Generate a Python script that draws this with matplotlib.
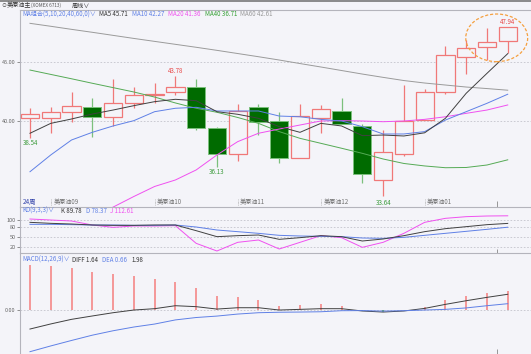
import numpy as np
import matplotlib.pyplot as plt
from matplotlib.patches import Ellipse
from matplotlib.transforms import blended_transform_factory

plt.rcParams['font.family'] = ['Noto Sans CJK SC', 'DejaVu Sans']

# weekly candles (24 weeks)
opens = [40.23, 40.23, 40.74, 41.21, 40.31, 41.50, 42.20, 42.48, 42.85, 39.38, 37.18, 41.16,
         40.00, 36.84, 40.28, 40.85, 39.58, 35.00, 37.20, 40.08, 42.43, 45.40, 46.25, 46.80]
closes = [40.57, 40.74, 41.30, 40.36, 41.55, 42.20, 42.26, 42.90, 39.43, 37.23, 40.87, 39.94,
          36.84, 40.45, 41.02, 39.72, 35.51, 37.35, 40.00, 42.43, 45.59, 46.16, 46.67, 47.94]
highs = [41.08, 41.21, 42.48, 41.97, 43.56, 42.90, 43.19, 43.78, 43.56, 39.52, 41.41, 41.41,
         40.74, 41.41, 41.36, 41.92, 39.72, 39.24, 43.05, 42.68, 46.36, 46.86, 47.86, 47.94]
lows = [38.54, 39.01, 39.89, 38.67, 39.58, 41.13, 41.50, 42.20, 39.24, 36.13, 36.64, 38.81,
        36.47, 36.84, 38.96, 39.72, 34.72, 33.64, 37.03, 40.08, 42.26, 43.96, 45.17, 45.74]

ma5 = [38.96, 39.80, 40.17, 40.59, 40.93, 41.30, 41.64, 41.84, 41.72, 40.79, 40.57, 40.23,
       39.52, 39.04, 39.80, 39.58, 38.76, 38.81, 38.73, 39.00, 40.23, 42.35, 44.04, 45.71]
ma10 = [35.70, 37.12, 38.39, 39.04, 39.58, 40.03, 40.79, 41.08, 41.16, 40.85, 40.85, 40.85,
        40.42, 40.36, 40.14, 40.00, 39.52, 38.90, 38.90, 39.10, 40.08, 40.79, 41.50, 42.27]
ma20 = [29.10, 30.00, 30.90, 31.80, 32.70, 33.60, 34.45, 35.00, 35.85, 37.12, 38.25, 38.96,
        39.32, 39.66, 40.00, 40.03, 40.00, 39.94, 40.00, 40.14, 40.36, 40.65, 40.93, 41.36]
ma40 = [44.32, 43.95, 43.58, 43.20, 42.83, 42.46, 42.03, 41.53, 41.08, 40.74, 40.30, 39.80,
        39.10, 38.53, 38.11, 37.69, 37.26, 36.78, 36.40, 36.19, 36.04, 36.06, 36.27, 36.71]
ma60 = [48.28, 48.03, 47.77, 47.52, 47.26, 47.00, 46.75, 46.50, 46.25, 45.99, 45.72, 45.45,
        45.17, 44.87, 44.58, 44.28, 43.98, 43.70, 43.43, 43.22, 43.05, 42.88, 42.75, 42.61]

k_line = [93, 90, 88, 85, 84, 84, 85, 85, 68, 50, 53, 55, 42, 47, 53, 50, 37, 43, 53, 65, 74, 80, 86, 89.78]
d_line = [87, 87, 86, 85, 85, 84, 84, 85, 79, 70, 65, 60, 54, 52, 51, 50, 46, 45, 48, 54, 60, 66, 72, 78.37]
j_line = [103, 100, 97, 85, 78, 82, 82, 83, 30, 7, 33, 40, 13, 33, 53, 47, 18, 33, 60, 93, 105, 110, 112, 112.61]

macd_bar = [4.69, 4.58, 4.41, 3.99, 3.75, 3.54, 3.19, 2.95, 2.26, 1.46, 1.32, 1.04,
            0.45, 0.56, 0.63, 0.42, -0.06, -0.18, -0.04, 0.35, 1.04, 1.49, 1.74, 1.98]
diff = [-1.98, -1.45, -0.97, -0.62, -0.28, 0.00, 0.14, 0.45, 0.35, 0.10, 0.24, 0.24,
        0.00, 0.07, 0.14, 0.14, -0.10, -0.21, -0.10, 0.17, 0.59, 0.97, 1.32, 1.64]
dea = [-4.34, -3.74, -3.17, -2.62, -2.16, -1.77, -1.46, -1.03, -0.78, -0.63, -0.42, -0.28,
       -0.23, -0.21, -0.18, -0.07, -0.06, -0.11, -0.07, 0.00, 0.07, 0.22, 0.45, 0.66]

month_pos = [1, 6, 10, 14, 19]
month_lab = ["美原油09", "美原油10", "美原油11", "美原油12", "美原油01"]

BG = '#f4f4f9'
RED = '#f07878'
DKGREEN = '#006b00'
LTGREEN = '#7cc07c'
BLUE = '#5f80e6'
MAG = '#f050f0'
GRID = '#c4c4cc'
FS = 4.4

W, H = 531, 354
fig = plt.figure(figsize=(5.31, 3.54), dpi=100, facecolor=BG)


def box(top, bottom):
    return [20 / W, 1 - bottom / H, (W - 20) / W, (bottom - top) / H]


def ftext(xp, yp, s, color, **kw):
    fig.text(xp / W, 1 - yp / H, s, color=color, fontsize=kw.pop('fs', FS),
             va='center', ha='left', **kw)


ax = fig.add_axes(box(10, 207))
kd = fig.add_axes(box(207, 253))
mc = fig.add_axes(box(253, 354))

x = np.arange(len(opens))
o, c, h, l = map(np.array, (opens, closes, highs, lows))
up = c >= o

for a in (ax, kd, mc):
    a.set_facecolor(BG)
    a.set_xlim(-0.48, 24.12)
    a.set_xticks([])
    for s in ('right', 'bottom'):
        a.spines[s].set_visible(False)
    for s in ('left', 'top'):
        a.spines[s].set_color('#b4b4bc')
        a.spines[s].set_linewidth(0.8)
    a.tick_params(axis='y', length=2, width=0.5, pad=1.2, labelsize=4, colors='#666666')

# main panel
ax.set_ylim(32.71, 49.41)
ax.set_yticks([40, 45])
ax.set_yticklabels(['40.00', '45.00'])
for v in (40, 45):
    ax.axhline(v, color=GRID, lw=0.6, ls=(0, (2, 2)), zorder=0)

ax.vlines(x[up], l[up], h[up], color=RED, lw=0.9, zorder=2)
ax.vlines(x[~up], l[~up], h[~up], color=LTGREEN, lw=0.9, zorder=2)
ax.bar(x[up], np.maximum(c[up] - o[up], 0.06), bottom=o[up], width=0.88,
       facecolor=BG, edgecolor=RED, linewidth=0.9, zorder=3)
ax.bar(x[~up], c[~up] - o[~up], bottom=o[~up], width=0.88,
       facecolor=DKGREEN, edgecolor=LTGREEN, linewidth=0.7, zorder=3)

ax.plot(x, ma60, color='#9a9a9a', lw=0.7, zorder=4)
ax.plot(x, ma40, color='#55aa55', lw=0.7, zorder=4)
ax.plot(x, ma20, color=MAG, lw=0.7, zorder=4)
ax.plot(x, ma10, color=BLUE, lw=0.7, zorder=4)
ax.plot(x, ma5, color='#404040', lw=0.7, zorder=4)

i_hi = int(np.argmax(h[:12]))
i_lo = int(np.argmin(l[:12]))
ax.text(i_hi, h[i_hi] + 0.42, f"{h[i_hi]:.2f}", color='#e84848', fontsize=FS, ha='center', va='center')
ax.text(i_lo, l[i_lo] - 0.47, f"{l[i_lo]:.2f}", color='#3a9a3a', fontsize=FS, ha='center', va='center')
ax.text(0, l[0] - 0.43, f"{l[0]:.2f}", color='#3a9a3a', fontsize=FS, ha='center', va='center')
ax.text(17, l[17] - 0.58, f"{l[17]:.2f}", color='#3a9a3a', fontsize=FS, ha='center', va='center')
ax.text(23, h[23] + 0.47, f"{h[23]:.2f}", color='#e84848', fontsize=FS, ha='center', va='center')

ax.add_patch(Ellipse((22.47, 47.05), 2.98, 4.04, fill=False, ec='#f5a040',
                     lw=0.9, ls=(0, (2.5, 1.5)), zorder=5))

trm = blended_transform_factory(ax.transData, ax.transAxes)
for p, lab in zip(month_pos, month_lab):
    ax.vlines(p, 0.01, 0.04, color='#999999', lw=0.5, ls=(0, (1, 1)), transform=trm)
    ax.text(p + 0.12, 0.026, lab, color='#707070', fontsize=FS, va='center', ha='left', transform=trm)
ax.text(0.005, 0.026, "24周", color='#3344aa', fontsize=4.6, va='center', ha='left',
        transform=ax.transAxes)
ax.vlines(22.5, 0.0, 0.03, color='#888888', lw=0.6, transform=trm)

# KD panel
kd.set_ylim(1, 139)
kd.set_yticks([20, 50, 80, 100])
kd.set_yticklabels(['20', '50', '80', '100'])
for v in (20, 50, 80, 100):
    kd.axhline(v, color=GRID, lw=0.6, ls=(0, (2, 2)), zorder=0)
kd.plot(x, j_line, color=MAG, lw=0.7)
kd.plot(x, d_line, color=BLUE, lw=0.7)
kd.plot(x, k_line, color='#404040', lw=0.7)
kd.vlines(22.5, 0.0, 0.08, color='#888888', lw=0.6,
          transform=blended_transform_factory(kd.transData, kd.transAxes))

# MACD panel
mc.set_ylim(-4.58, 5.94)
mc.set_yticks([0])
mc.set_yticklabels(['0.00'])
mc.axhline(0, color=GRID, lw=0.6, ls=(0, (2, 2)), zorder=0)
mb = np.array(macd_bar)
mc.vlines(x[mb >= 0], 0, mb[mb >= 0], color='#f49090', lw=1.3)
mc.vlines(x[mb < 0], 0, mb[mb < 0], color='#55aa55', lw=1.3)
mc.plot(x, diff, color='#404040', lw=0.7)
mc.plot(x, dea, color=BLUE, lw=0.7)
mc.vlines(22.5, 0.0, 0.05, color='#888888', lw=0.6,
          transform=blended_transform_factory(mc.transData, mc.transAxes))

# header texts
fig.add_artist(plt.Line2D([0, 1], [1 - 0.6 / H, 1 - 0.6 / H], color='#8a8a8a', lw=1.4))
ftext(1, 5.5, "⊙", '#555555', fs=3.6)
ftext(7, 5.5, "美原油主", '#333333')
ftext(31, 5.5, "(XOMEX 6713)", '#555555', fs=3.4)
ftext(72, 5.5, "周线∨", '#333333')

ftext(22, 14.5, "MA组合(5,10,20,40,60,0)∨", BLUE)
ftext(99, 14.5, f"MA5 {ma5[-1]:.2f}", '#333333')
ftext(132.5, 14.5, f"MA10 {ma10[-1]:.2f}", BLUE)
ftext(168, 14.5, f"MA20 {ma20[-1]:.2f}", MAG)
ftext(205, 14.5, f"MA40 {ma40[-1]:.2f}", '#33a033')
ftext(240.5, 14.5, f"MA60 {ma60[-1]:.2f}", '#999999')

ftext(22, 211, "KD(9,3,3)∨", BLUE)
ftext(61, 211, f"K {k_line[-1]:.2f}", '#333333')
ftext(86, 211, f"D {d_line[-1]:.2f}", BLUE)
ftext(110.5, 211, f"J {j_line[-1]:.2f}", MAG)

ftext(22, 259.5, "MACD(12,26,9)∨", BLUE)
ftext(72, 259.5, f"DIFF {diff[-1]:.2f}", '#333333')
ftext(102, 259.5, f"DEA {dea[-1]:.2f}", BLUE)
ftext(132, 259.5, f"{macd_bar[-1]:.2f}", '#333333')

fig.savefig('out.png', dpi=100, facecolor=BG)
